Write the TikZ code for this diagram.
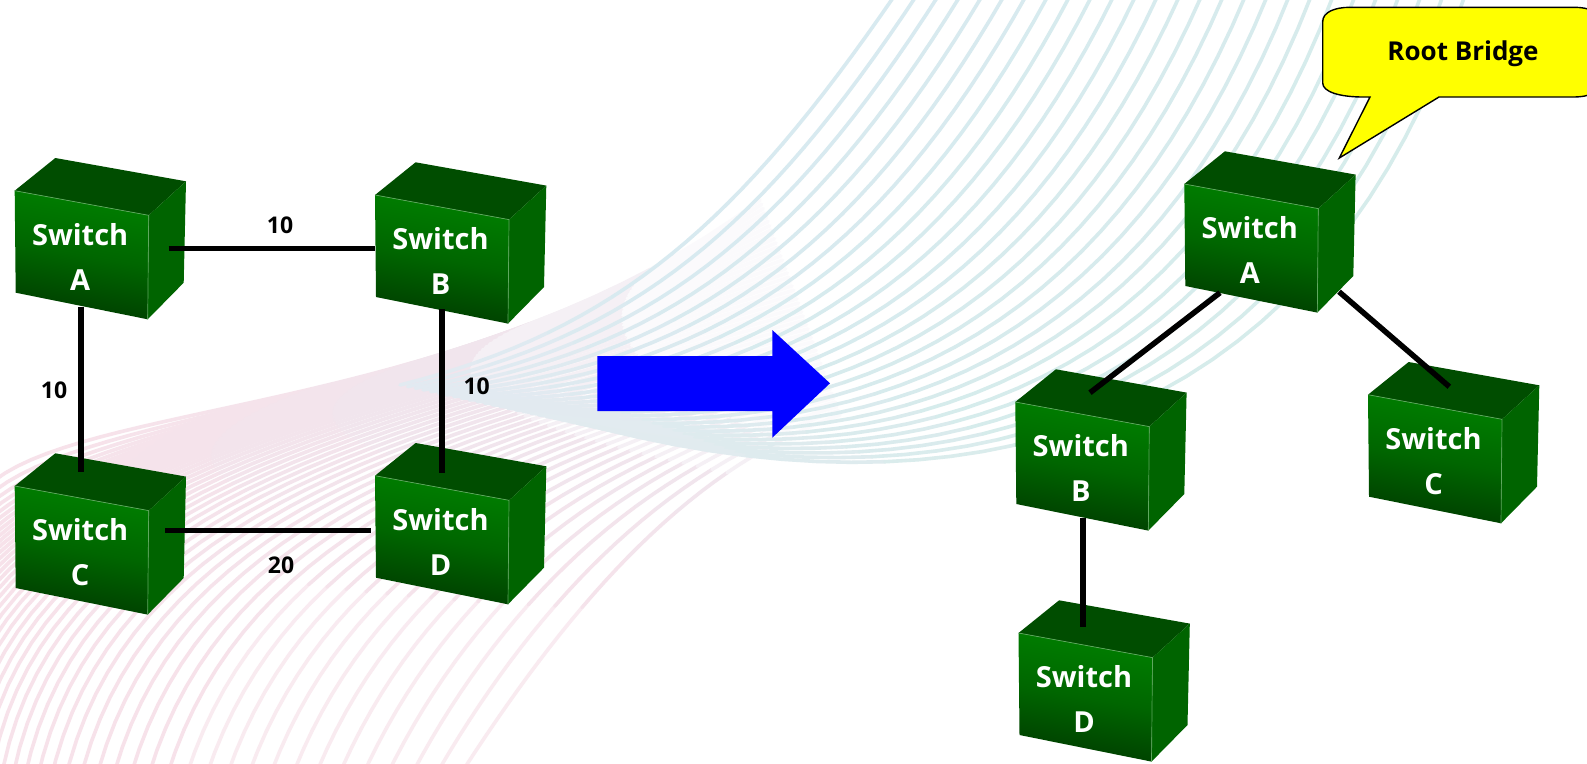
\documentclass[tikz,border=0pt]{standalone}
\usepackage{fontspec}
\setmainfont{Open Sans}
\usetikzlibrary{calc}
\definecolor{cubetop}{HTML}{004D00}
\definecolor{cubeside}{HTML}{006400}
\definecolor{cubehi}{HTML}{008000}
\definecolor{cubelo}{HTML}{003C00}
\definecolor{cubeedge}{HTML}{5FA85F}
\definecolor{swpink}{HTML}{F7E2EA}
\definecolor{swlilac}{HTML}{E9EAF2}
\definecolor{swblue}{HTML}{D8EAF0}
\definecolor{swteal}{HTML}{D6ECEB}
\definecolor{callfill}{HTML}{FFFF00}
\tikzset{
  cubelabel/.style={text=white,font=\fontsize{29}{45}\selectfont\bfseries,align=center,inner sep=0pt},
  link/.style={draw=black,line width=5.5pt},
  cost/.style={text=black,font=\fontsize{23}{26}\selectfont\bfseries,inner sep=0pt},
  strand/.style={line width=3.6pt,line cap=round,line join=round},
  bigarrow/.style={fill=blue,draw=none},
  callout/.style={fill=callfill,draw=black,line width=1.4pt,line join=miter},
  calltext/.style={text=black,font=\fontsize{26}{30}\selectfont\bfseries,inner sep=0pt}
}
% cube: name, x, y of front top-left corner, letter
\newcommand{\netcube}[4]{%
  \begin{scope}[shift={(#2,#3)}]
    \fill[cubetop] (0,0) -- (40.6,-32.7) -- (171.3,-9.4) -- (134,24.6) -- cycle;
    \fill[cubeside] (134,24.6) -- (171.3,-9.4) -- (169,92) -- (133,128.6) -- cycle;
    \shade[top color=cubehi,bottom color=cubelo,middle color=cubehi!62!cubelo,shading angle=-10]
      (0,0) -- (134,24.6) -- (133,128.6) -- (1,102) -- cycle;
    \draw[cubeedge,line width=.7pt] (0,0) -- (134,24.6) -- (133,128.6);
    \node[cubelabel] (#1) at (65.5,66) {Switch\\#4};
  \end{scope}}
% bezier coordinate
\newcommand{\bez}[5]{((1-#5)^3*(#1)+3*(1-#5)^2*#5*(#2)+3*(1-#5)*#5^2*(#3)+#5^3*(#4))}
\begin{document}
\begin{tikzpicture}[x=1pt,y=-1pt]
\useasboundingbox (0,0) rectangle (1587,763);
\fill[white] (0,0) rectangle (1587,763);
% pink swoosh
\foreach \i in {0,...,50}{
  \pgfmathsetmacro{\p}{\i/50}
  \pgfmathsetmacro{\q}{1-\p}
  \pgfmathsetmacro{\ax}{\q*\q*(-5)+2*\p*\q*(-250)+\p*\p*460}
  \pgfmathsetmacro{\ay}{\q*\q*480+2*\p*\q*950+\p*\p*775}
  \pgfmathsetmacro{\bx}{\q*\q*100+2*\p*\q*(-270)+\p*\p*560}
  \pgfmathsetmacro{\by}{\q*\q*400+2*\p*\q*490+\p*\p*620}
  \pgfmathsetmacro{\cx}{\q*\q*480+2*\p*\q*110+\p*\p*680}
  \pgfmathsetmacro{\cy}{\q*\q*410+2*\p*\q*425+\p*\p*470}
  \pgfmathsetmacro{\dx}{\q*760+\p*840}
  \pgfmathsetmacro{\dy}{\q*200+\p*415}
  \foreach \k in {0,...,7}{
    \pgfmathsetmacro{\ua}{\k/8}
    \pgfmathsetmacro{\ub}{(\k+1)/8}
    \pgfmathtruncatemacro{\mixa}{100-100*\ua*\ua}
    \pgfmathtruncatemacro{\mixb}{\k>5 ? 100-(\k-5)*40 : 100}
    \pgfmathtruncatemacro{\mixc}{\p>0.75 && \k<3 ? 70 : 100}
    \draw[strand,color=swpink!\mixa!swlilac,color=.!\mixb!white,color=.!\mixc!white]
      plot[domain=\ua:\ub,samples=5,variable=\u]
      ({\bez{\ax}{\bx}{\cx}{\dx}{\u}},{\bez{\ay}{\by}{\cy}{\dy}{\u}});
  }
}
% blue swoosh
\foreach \i in {0,...,26}{
  \pgfmathsetmacro{\p}{\i/26}
  \pgfmathsetmacro{\q}{1-\p}
  \pgfmathsetmacro{\ax}{\q*400+\p*600}
  \pgfmathsetmacro{\ay}{\q*385+\p*428}
  \pgfmathsetmacro{\bx}{\q*620+\p*1000}
  \pgfmathsetmacro{\by}{\q*330+\p*530}
  \pgfmathsetmacro{\cx}{\q*740+\p*1330}
  \pgfmathsetmacro{\cy}{\q*220+\p*410}
  \pgfmathsetmacro{\dx}{\q*895+\p*1465}
  \pgfmathsetmacro{\dy}{\q*(-5)+\p*(-5)}
  \pgfmathtruncatemacro{\tealmix}{100-100*\p}
  \foreach \k in {0,...,7}{
    \pgfmathsetmacro{\ua}{\k/8}
    \pgfmathsetmacro{\ub}{(\k+1)/8}
    \pgfmathtruncatemacro{\mixa}{\k>2 ? 100 : 40+\k*20}
    \draw[strand,color=swblue!\tealmix!swteal,color=.!\mixa!swlilac]
      plot[domain=\ua:\ub,samples=5,variable=\u]
      ({\bez{\ax}{\bx}{\cx}{\dx}{\u}},{\bez{\ay}{\by}{\cy}{\dy}{\u}});
  }
}
% left network
\netcube{la}{14.7}{190.7}{A}
\netcube{lb}{375}{195}{B}
\netcube{lc}{14.7}{486}{C}
\netcube{ld}{375}{475.7}{D}
\draw[link] ([shift={(88.5,-8.4)}]la.center) -- ([shift={(-65.5,-12.7)}]lb.center);
\draw[link] ([shift={(0.8,50)}]la.center) -- ([shift={(0.8,-80.3)}]lc.center);
\draw[link] ([shift={(1.5,48)}]lb.center) -- ([shift={(1.5,-69)}]ld.center);
\draw[link] ([shift={(84.8,-21.3)}]lc.center) -- ([shift={(-69.5,-11)}]ld.center);
\node[cost] (cab) at (280,225) {10};
\node[cost] (cac) at (54,390) {10};
\node[cost] (cbd) at (476.7,386) {10};
\node[cost] (ccd) at (281,565) {20};
% arrow
\fill[bigarrow] (597.3,356) -- (772.3,356) -- (772.3,330) -- (830,383.3) -- (772.3,437.7) -- (772.3,411) -- (597.3,411) -- cycle;
% right network
\netcube{ra}{1184.3}{184}{A}
\netcube{rb}{1015.3}{402}{B}
\netcube{rc}{1368}{394.7}{C}
\netcube{rd}{1018.5}{633}{D}
\draw[link] ([shift={(-29.8,42.7)}]ra.center) -- ([shift={(9.2,-75.3)}]rb.center);
\draw[link] ([shift={(89.2,41.7)}]ra.center) -- ([shift={(15.8,-74)}]rc.center);
\draw[link] ([shift={(2.2,50)}]rb.center) -- ([shift={(-1,-72)}]rd.center);
% callout
\draw[callout] (1370,97) -- (1363,97) .. controls (1340,97) and (1322.7,92) .. (1322.7,83)
  -- (1322.7,21.7) .. controls (1322.7,12) and (1335,7.3) .. (1350,7.3)
  -- (1573,7.3) .. controls (1590,7.3) and (1600,12) .. (1600,21.7)
  -- (1600,83) .. controls (1600,92) and (1590,97) .. (1573,97)
  -- (1439,97) -- (1339.3,158) -- cycle;
\node[calltext] (rootlabel) at (1463,54) {Root Bridge};
\end{tikzpicture}
\end{document}
